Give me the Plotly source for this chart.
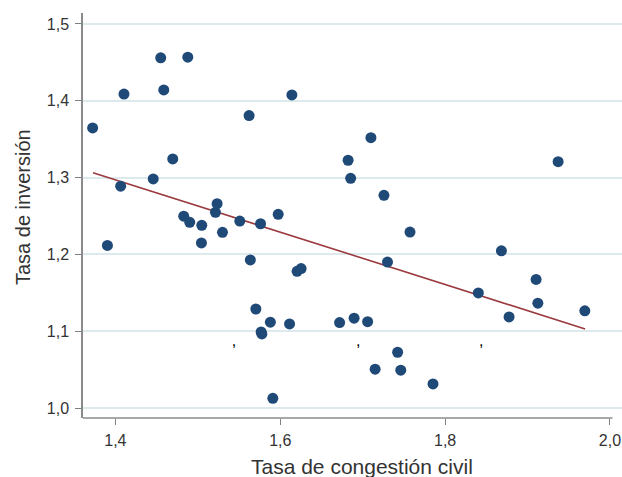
import plotly.graph_objects as go

# Data
congestion = [1.3724, 1.3903, 1.4104, 1.4064, 1.4459, 1.4550, 1.4587, 1.4878, 1.4696, 1.4829,
              1.4902, 1.5048, 1.5044, 1.5234, 1.5214, 1.5299, 1.5509, 1.5622, 1.5637, 1.5704,
              1.5768, 1.5777, 1.5761, 1.5880, 1.5910, 1.5975, 1.6113, 1.6141, 1.6204, 1.6253,
              1.6720, 1.6823, 1.6854, 1.6896, 1.7060, 1.7100, 1.7151, 1.7258, 1.7301, 1.7424,
              1.7462, 1.7574, 1.7853, 1.8403, 1.8683, 1.8776, 1.9104, 1.9125, 1.9371, 1.9695]
inversion = [1.3647, 1.2117, 1.4087, 1.2888, 1.2982, 1.4559, 1.4142, 1.4568, 1.3243, 1.2497,
             1.2417, 1.2378, 1.2150, 1.2660, 1.2548, 1.2288, 1.2434, 1.3807, 1.1928, 1.1289,
             1.0991, 1.0964, 1.2399, 1.1117, 1.0126, 1.2522, 1.1095, 1.4077, 1.1780, 1.1815,
             1.1113, 1.3226, 1.2991, 1.1169, 1.1124, 1.3520, 1.0505, 1.2769, 1.1900, 1.0726,
             1.0492, 1.2291, 1.0313, 1.1499, 1.2047, 1.1186, 1.1674, 1.1365, 1.3207, 1.1265]
trend_x = [1.3728, 1.9699]
trend_y = [1.3064, 1.1030]
stray_x = [1.5439, 1.6945, 1.8439]
stray_y = [1.0865, 1.0865, 1.0865]
x_ticks = [1.4, 1.6, 1.8, 2.0]
x_labels = ["1,4", "1,6", "1,8", "2,0"]
y_ticks = [1.0, 1.1, 1.2, 1.3, 1.4, 1.5]
y_labels = ["1,0", "1,1", "1,2", "1,3", "1,4", "1,5"]

FONT = "Liberation Sans, Arial, sans-serif"
TXT = "#333333"

fig = go.Figure()
fig.add_trace(go.Scatter(x=trend_x, y=trend_y, mode="lines",
                         line=dict(color="#9b3a3f", width=1.6), hoverinfo="skip"))
fig.add_trace(go.Scatter(x=congestion, y=inversion, mode="markers",
                         marker=dict(color="#1f4a78", size=11, line=dict(width=0))))
fig.add_trace(go.Scatter(x=stray_x, y=stray_y, mode="text", text=[","] * 3,
                         textfont=dict(size=16, color="#000000", family=FONT), hoverinfo="skip"))

xmin, xmax = 1.3607, 2.0146
ymin, ymax = 0.987, 1.5143

fig.update_layout(
    width=622, height=477,
    margin=dict(l=83, r=0, t=13, b=59),
    paper_bgcolor="white", plot_bgcolor="white",
    showlegend=False,
    font=dict(family=FONT, color=TXT, size=16),
    xaxis=dict(range=[xmin, xmax], tickvals=x_ticks, ticktext=x_labels,
               showgrid=False, zeroline=False, showline=False, automargin=False,
               ticks="outside", ticklen=6, tickwidth=1, tickcolor="#7f7f7f",
               tickfont=dict(size=16, color=TXT), ticklabelstandoff=2),
    yaxis=dict(range=[ymin, ymax], tickvals=y_ticks, ticktext=y_labels,
               showgrid=True, gridcolor="#dceaee", gridwidth=2, zeroline=False,
               showline=True, linecolor="#8a8a8a", linewidth=1.5, automargin=False,
               ticks="outside", ticklen=6, tickwidth=1, tickcolor="#7f7f7f",
               tickfont=dict(size=16, color=TXT), ticklabelstandoff=3),
    shapes=[dict(type="line", xref="x", yref="paper", x0=xmin, x1=2.003, y0=0, y1=0,
                 line=dict(color="#8a8a8a", width=1.5))],
    annotations=[
        dict(text="Tasa de congestión civil", xref="paper", yref="paper",
             x=(362 - 83) / 539, y=-(467 - 418) / 405, showarrow=False,
             font=dict(size=21, color=TXT, family=FONT), xanchor="center", yanchor="middle"),
        dict(text="Tasa de inversión", xref="paper", yref="paper",
             x=-(83 - 23) / 539, y=(418 - 207) / 405, showarrow=False, textangle=-90,
             font=dict(size=20, color=TXT, family=FONT), xanchor="center", yanchor="middle"),
    ],
)

fig.write_html("out.html", config={"displayModeBar": False},
               post_script="document.body.style.margin='0';document.body.style.overflow='hidden';")
